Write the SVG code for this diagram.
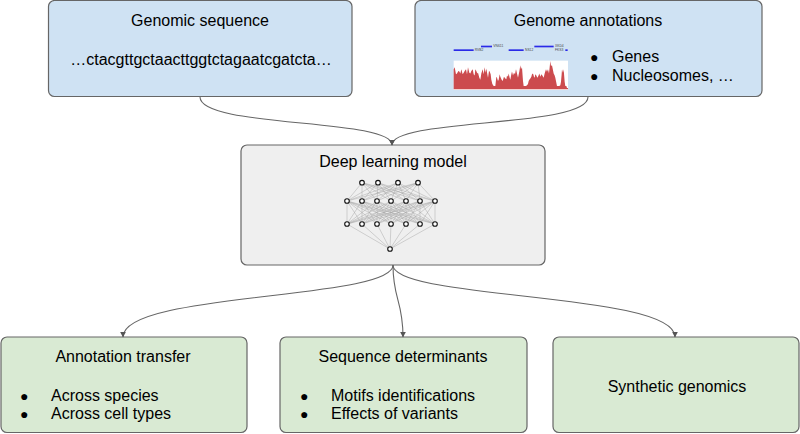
<svg xmlns="http://www.w3.org/2000/svg" width="800" height="434" viewBox="0 0 800 434">
<defs>
<style>
.box{stroke:#666;stroke-width:1.2}
.blue{fill:#cfe2f3}
.gray{fill:#efefef}
.green{fill:#d9ead3}
text{font-family:"Liberation Sans",Arial,sans-serif;fill:#000}
.t{font-size:16px}
.mid{text-anchor:middle}
.bul{font-size:14px}
.conn{fill:none;stroke:#666;stroke-width:1.1}
.nn line{stroke:#aaa;stroke-width:0.5}
.nn circle{fill:#fff;stroke:#111;stroke-width:1.1}
.lbl{font-size:10px;fill:#444}
</style>
<marker id="ah" viewBox="0 0 10 10" refX="9" refY="5" markerWidth="6" markerHeight="6" orient="auto" markerUnits="userSpaceOnUse">
<path d="M0,0 L10,5 L0,10 z" fill="#555"/>
</marker>
</defs>
<rect width="800" height="434" fill="#fff"/>

<g id="genomic-sequence">
<rect class="box blue" x="48.5" y="0.5" width="303.5" height="96" rx="6"/>
<text class="t mid" x="200" y="26">Genomic sequence</text>
<text class="t mid" x="201" y="65">…ctacgttgctaacttggtctagaatcgatcta…</text>
</g>

<g id="genome-annotations">
<rect class="box blue" x="415" y="0.5" width="347" height="96" rx="6"/>
<text class="t mid" x="588" y="26">Genome annotations</text>
<g transform="translate(452,40) scale(0.3333)">
<rect x="5" y="62" width="343" height="88" fill="#fff"/>
<polygon transform="translate(0,148) scale(1,1.25) translate(0,-148)" fill="#cc4b4e" points="5,148 5,100 8,95 12,112 15,110 19,104 22,105 25,110 28,100 32,112 35,108 38,104 42,100 45,112 48,95 52,108 55,110 58,104 62,100 65,112 68,115 70,100 73,104 76,110 78,108 82,120 85,125 88,110 92,100 95,112 98,95 101,108 103,98 106,112 108,120 111,104 113,105 116,112 118,125 121,135 125,140 128,140 130,140 133,118 135,120 138,128 140,125 143,112 145,118 149,125 152,128 156,118 160,122 163,124 165,115 168,118 170,110 173,120 175,125 178,112 180,105 183,115 186,108 189,112 192,100 195,110 198,120 202,105 205,90 207,100 210,95 213,128 215,140 219,140 222,140 225,138 228,135 230,128 232,125 235,122 238,118 240,112 243,110 246,118 248,120 250,112 253,115 256,120 258,118 260,114 262,110 265,118 268,112 271,115 275,120 278,110 282,100 285,106 288,100 291,110 295,80 297,92 300,90 302,98 305,110 308,115 310,120 313,132 315,140 318,140 322,140 325,138 327,130 329,112 330,100 333,108 335,100 338,130 340,140 343,140 345,145 348,145 348,148"/>
<rect x="87" y="17" width="33" height="5" fill="#2a2ae8"/>
<rect x="247" y="17" width="58" height="5" fill="#2a2ae8"/>
<rect x="5" y="28" width="60" height="5" fill="#2a2ae8"/>
<rect x="170" y="28" width="45" height="5" fill="#2a2ae8"/>
<rect x="340" y="28" width="7" height="5" fill="#2a2ae8"/>
<text class="lbl" x="124" y="22">VN611</text>
<text class="lbl" x="309" y="22">XKD4</text>
<text class="lbl" x="68" y="33">RVB2</text>
<text class="lbl" x="219" y="33">NS12</text>
<text class="lbl" x="309" y="33">FKS3</text>
</g>
<text class="bul" x="590" y="62">●</text>
<text class="t" x="612" y="62">Genes</text>
<text class="bul" x="590" y="81">●</text>
<text class="t" x="612" y="81">Nucleosomes, …</text>
</g>

<g id="deep-learning-model">
<rect class="box gray" x="241" y="145" width="304" height="120" rx="6"/>
<text class="t mid" x="393" y="167">Deep learning model</text>
<g class="nn">
<g id="l12">
<line x1="362" y1="182.7" x2="347" y2="201"/><line x1="362" y1="182.7" x2="362" y2="201"/><line x1="362" y1="182.7" x2="377" y2="201"/><line x1="362" y1="182.7" x2="391" y2="201"/><line x1="362" y1="182.7" x2="406" y2="201"/><line x1="362" y1="182.7" x2="420" y2="201"/><line x1="362" y1="182.7" x2="435" y2="201"/>
<line x1="378" y1="182.7" x2="347" y2="201"/><line x1="378" y1="182.7" x2="362" y2="201"/><line x1="378" y1="182.7" x2="377" y2="201"/><line x1="378" y1="182.7" x2="391" y2="201"/><line x1="378" y1="182.7" x2="406" y2="201"/><line x1="378" y1="182.7" x2="420" y2="201"/><line x1="378" y1="182.7" x2="435" y2="201"/>
<line x1="398" y1="182.7" x2="347" y2="201"/><line x1="398" y1="182.7" x2="362" y2="201"/><line x1="398" y1="182.7" x2="377" y2="201"/><line x1="398" y1="182.7" x2="391" y2="201"/><line x1="398" y1="182.7" x2="406" y2="201"/><line x1="398" y1="182.7" x2="420" y2="201"/><line x1="398" y1="182.7" x2="435" y2="201"/>
<line x1="418" y1="182.7" x2="347" y2="201"/><line x1="418" y1="182.7" x2="362" y2="201"/><line x1="418" y1="182.7" x2="377" y2="201"/><line x1="418" y1="182.7" x2="391" y2="201"/><line x1="418" y1="182.7" x2="406" y2="201"/><line x1="418" y1="182.7" x2="420" y2="201"/><line x1="418" y1="182.7" x2="435" y2="201"/>
</g>
<g id="l23">
<line x1="347" y1="201" x2="347" y2="224"/><line x1="347" y1="201" x2="362" y2="224"/><line x1="347" y1="201" x2="377" y2="224"/><line x1="347" y1="201" x2="391" y2="224"/><line x1="347" y1="201" x2="406" y2="224"/><line x1="347" y1="201" x2="420" y2="224"/><line x1="347" y1="201" x2="435" y2="224"/>
<line x1="362" y1="201" x2="347" y2="224"/><line x1="362" y1="201" x2="362" y2="224"/><line x1="362" y1="201" x2="377" y2="224"/><line x1="362" y1="201" x2="391" y2="224"/><line x1="362" y1="201" x2="406" y2="224"/><line x1="362" y1="201" x2="420" y2="224"/><line x1="362" y1="201" x2="435" y2="224"/>
<line x1="377" y1="201" x2="347" y2="224"/><line x1="377" y1="201" x2="362" y2="224"/><line x1="377" y1="201" x2="377" y2="224"/><line x1="377" y1="201" x2="391" y2="224"/><line x1="377" y1="201" x2="406" y2="224"/><line x1="377" y1="201" x2="420" y2="224"/><line x1="377" y1="201" x2="435" y2="224"/>
<line x1="391" y1="201" x2="347" y2="224"/><line x1="391" y1="201" x2="362" y2="224"/><line x1="391" y1="201" x2="377" y2="224"/><line x1="391" y1="201" x2="391" y2="224"/><line x1="391" y1="201" x2="406" y2="224"/><line x1="391" y1="201" x2="420" y2="224"/><line x1="391" y1="201" x2="435" y2="224"/>
<line x1="406" y1="201" x2="347" y2="224"/><line x1="406" y1="201" x2="362" y2="224"/><line x1="406" y1="201" x2="377" y2="224"/><line x1="406" y1="201" x2="391" y2="224"/><line x1="406" y1="201" x2="406" y2="224"/><line x1="406" y1="201" x2="420" y2="224"/><line x1="406" y1="201" x2="435" y2="224"/>
<line x1="420" y1="201" x2="347" y2="224"/><line x1="420" y1="201" x2="362" y2="224"/><line x1="420" y1="201" x2="377" y2="224"/><line x1="420" y1="201" x2="391" y2="224"/><line x1="420" y1="201" x2="406" y2="224"/><line x1="420" y1="201" x2="420" y2="224"/><line x1="420" y1="201" x2="435" y2="224"/>
<line x1="435" y1="201" x2="347" y2="224"/><line x1="435" y1="201" x2="362" y2="224"/><line x1="435" y1="201" x2="377" y2="224"/><line x1="435" y1="201" x2="391" y2="224"/><line x1="435" y1="201" x2="406" y2="224"/><line x1="435" y1="201" x2="420" y2="224"/><line x1="435" y1="201" x2="435" y2="224"/>
</g>
<g id="l34">
<line x1="347" y1="224" x2="390" y2="249"/><line x1="362" y1="224" x2="390" y2="249"/><line x1="377" y1="224" x2="390" y2="249"/><line x1="391" y1="224" x2="390" y2="249"/><line x1="406" y1="224" x2="390" y2="249"/><line x1="420" y1="224" x2="390" y2="249"/><line x1="435" y1="224" x2="390" y2="249"/>
</g>
<circle cx="362" cy="182.7" r="2.3"/><circle cx="378" cy="182.7" r="2.3"/><circle cx="398" cy="182.7" r="2.3"/><circle cx="418" cy="182.7" r="2.3"/>
<circle cx="347" cy="201" r="2.3"/><circle cx="362" cy="201" r="2.3"/><circle cx="377" cy="201" r="2.3"/><circle cx="391" cy="201" r="2.3"/><circle cx="406" cy="201" r="2.3"/><circle cx="420" cy="201" r="2.3"/><circle cx="435" cy="201" r="2.3"/>
<circle cx="347" cy="224" r="2.3"/><circle cx="362" cy="224" r="2.3"/><circle cx="377" cy="224" r="2.3"/><circle cx="391" cy="224" r="2.3"/><circle cx="406" cy="224" r="2.3"/><circle cx="420" cy="224" r="2.3"/><circle cx="435" cy="224" r="2.3"/>
<circle cx="390" cy="249" r="2.3"/>
</g>
</g>

<g id="annotation-transfer">
<rect class="box green" x="1" y="337" width="246" height="95.5" rx="6"/>
<text class="t mid" x="123" y="362">Annotation transfer</text>
<text class="bul" x="20" y="401">●</text>
<text class="t" x="51" y="401">Across species</text>
<text class="bul" x="20" y="419">●</text>
<text class="t" x="51" y="419">Across cell types</text>
</g>

<g id="sequence-determinants">
<rect class="box green" x="280" y="337" width="247" height="95.5" rx="6"/>
<text class="t mid" x="403" y="362">Sequence determinants</text>
<text class="bul" x="300" y="401">●</text>
<text class="t" x="331" y="401">Motifs identifications</text>
<text class="bul" x="300" y="419">●</text>
<text class="t" x="331" y="419">Effects of variants</text>
</g>

<g id="synthetic-genomics">
<rect class="box green" x="553" y="337" width="246" height="95.5" rx="6"/>
<text class="t mid" x="677" y="392">Synthetic genomics</text>
</g>

<g id="connectors">
<path class="conn" marker-end="url(#ah)" d="M200,97 C200,128 392,118 392,145"/>
<path class="conn" marker-end="url(#ah)" d="M588,97 C588,128 392,118 392,145"/>
<path class="conn" marker-end="url(#ah)" d="M393,265 C393,300 123,292 123,337"/>
<path class="conn" marker-end="url(#ah)" d="M393,265 C393,300 403,300 403,337"/>
<path class="conn" marker-end="url(#ah)" d="M393,265 C393,300 675,292 675,337"/>
</g>
</svg>
